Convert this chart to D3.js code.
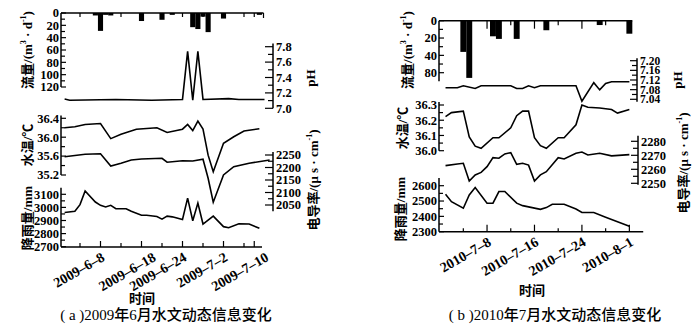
<!DOCTYPE html>
<html>
<head>
<meta charset="utf-8">
<script src="https://cdn.jsdelivr.net/npm/d3@7"></script>
<style>
  body { margin: 0; background: #fff; }
  svg { display: block; }
</style>
</head>
<body>
<svg id="chart" width="700" height="328"></svg>
<script>
// ---------- Panel (a): June 2009 ----------
const aFlowDates = ["2009-06-07","2009-06-08","2009-06-09","2009-06-10","2009-06-16","2009-06-20","2009-06-22","2009-06-26","2009-06-27","2009-06-28","2009-06-29","2009-07-02","2009-07-09"];
const aFlowValues = [4, 29, 3, 4, 13, 11, 3, 23, 26, 6, 31, 9, 3];

const aPhDates = ["2009-06-01","2009-06-02","2009-06-11","2009-06-18","2009-06-24","2009-06-25","2009-06-26","2009-06-27","2009-06-28","2009-07-03","2009-07-05","2009-07-10"];
const aPhValues = [7.12, 7.105, 7.115, 7.105, 7.115, 7.74, 7.105, 7.74, 7.115, 7.125, 7.115, 7.115];

const aTempDates = ["2009-06-01","2009-06-03","2009-06-05","2009-06-08","2009-06-10","2009-06-12","2009-06-15","2009-06-19","2009-06-21","2009-06-24","2009-06-25","2009-06-26","2009-06-27","2009-06-28","2009-06-29","2009-06-30","2009-07-02","2009-07-04","2009-07-06","2009-07-09"];
const aTempValues = [36.20, 36.22, 36.27, 36.29, 35.97, 36.06, 36.17, 36.20, 36.10, 36.17, 36.27, 36.14, 36.34, 36.17, 35.62, 35.27, 35.87, 36.01, 36.13, 36.18];

const aCondDates = ["2009-06-01","2009-06-05","2009-06-08","2009-06-10","2009-06-12","2009-06-14","2009-06-16","2009-06-20","2009-06-21","2009-06-24","2009-06-26","2009-06-28","2009-06-29","2009-06-30","2009-07-02","2009-07-04","2009-07-07","2009-07-11"];
const aCondValues = [2243, 2253, 2255, 2206, 2217, 2230, 2234, 2237, 2221, 2227, 2226, 2233, 2157, 2061, 2170, 2203, 2217, 2230];

const aRainDates = ["2009-06-01","2009-06-03","2009-06-04","2009-06-05","2009-06-07","2009-06-08","2009-06-09","2009-06-10","2009-06-11","2009-06-13","2009-06-14","2009-06-16","2009-06-17","2009-06-19","2009-06-20","2009-06-21","2009-06-22","2009-06-24","2009-06-25","2009-06-26","2009-06-27","2009-06-28","2009-06-30","2009-07-02","2009-07-03","2009-07-05","2009-07-07","2009-07-09"];
const aRainValues = [2961, 2970, 3021, 3126, 3041, 3016, 3003, 3016, 2991, 2990, 2970, 2940, 2940, 2930, 2910, 2933, 2928, 2908, 3071, 2898, 3033, 2873, 2933, 2853, 2845, 2875, 2873, 2840];

const aFlowTicks = [0, 20, 40, 60, 80, 100, 120];
const aPhTicks = [7.0, 7.2, 7.4, 7.6, 7.8];
const aTempTicks = [35.2, 35.6, 36.0, 36.4];
const aCondTicks = [2050, 2100, 2150, 2200, 2250];
const aRainTicks = [2700, 2800, 2900, 3000, 3100];
const aTimeTicks = ["2009-06-04","2009-06-08","2009-06-12","2009-06-16","2009-06-20","2009-06-24","2009-06-28","2009-07-02","2009-07-06","2009-07-08"];
const aDateLabelDates = ["2009-06-08","2009-06-18","2009-06-24","2009-07-02","2009-07-10"];
const aDateLabels = ["2009–6–8","2009–6–18","2009–6–24","2009–7–2","2009–7–10"];

// ---------- Panel (b): July 2010 ----------
const bFlowDates = ["2010-07-04","2010-07-05","2010-07-09","2010-07-10","2010-07-13","2010-07-18","2010-07-27","2010-08-01"];
const bFlowValues = [36, 66, 18, 21, 21, 11, 5, 15];

const bPhDates = ["2010-07-01","2010-07-03","2010-07-04","2010-07-06","2010-07-07","2010-07-12","2010-07-13","2010-07-14","2010-07-15","2010-07-16","2010-07-17","2010-07-23","2010-07-24","2010-07-26","2010-07-27","2010-07-28","2010-07-29","2010-08-01"];
const bPhValues = [7.088, 7.088, 7.096, 7.085, 7.096, 7.096, 7.085, 7.085, 7.096, 7.088, 7.096, 7.096, 7.032, 7.109, 7.079, 7.106, 7.113, 7.113];

const bTempDates = ["2010-07-01","2010-07-02","2010-07-04","2010-07-05","2010-07-06","2010-07-07","2010-07-09","2010-07-10","2010-07-12","2010-07-13","2010-07-14","2010-07-15","2010-07-16","2010-07-17","2010-07-18","2010-07-20","2010-07-21","2010-07-23","2010-07-24","2010-07-25","2010-07-27","2010-07-29","2010-07-30","2010-08-01"];
const bTempValues = [36.224, 36.25, 36.26, 36.09, 36.03, 36.016, 36.085, 36.085, 36.15, 36.23, 36.26, 36.26, 36.085, 36.033, 36.016, 36.085, 36.085, 36.17, 36.30, 36.285, 36.28, 36.27, 36.247, 36.27];

const bCondDates = ["2010-07-01","2010-07-03","2010-07-04","2010-07-05","2010-07-06","2010-07-07","2010-07-08","2010-07-09","2010-07-10","2010-07-11","2010-07-12","2010-07-13","2010-07-14","2010-07-15","2010-07-16","2010-07-17","2010-07-18","2010-07-20","2010-07-21","2010-07-23","2010-07-24","2010-07-25","2010-07-27","2010-07-29","2010-08-01"];
const bCondValues = [2262.6, 2263.8, 2264.3, 2251.6, 2256, 2257.8, 2261.9, 2268.3, 2267.9, 2271, 2271.9, 2263.6, 2264.3, 2263, 2251.6, 2256, 2258.3, 2268.3, 2267.4, 2271.4, 2272.3, 2270.2, 2271.5, 2269.6, 2270.5];

const bRainDates = ["2010-07-01","2010-07-02","2010-07-04","2010-07-05","2010-07-06","2010-07-08","2010-07-09","2010-07-10","2010-07-11","2010-07-13","2010-07-14","2010-07-17","2010-07-18","2010-07-19","2010-07-21","2010-07-23","2010-07-24","2010-07-26","2010-07-28","2010-08-01"];
const bRainValues = [2544, 2496, 2453, 2540, 2588, 2486, 2486, 2562, 2562, 2486, 2470, 2446, 2457, 2479, 2479, 2448, 2425, 2425, 2395, 2335];

const bFlowTicks = [0, 20, 40, 60];
const bFlowTickLabels = ["0", "20", "40", "80"];
const bPhTicks = [7.04, 7.08, 7.12, 7.16, 7.20];
const bTempTicks = [36.0, 36.1, 36.2, 36.3];
const bCondTicks = [2250, 2260, 2270, 2280];
const bRainTicks = [2300, 2400, 2500, 2600];
const bTimeTicks = ["2010-07-04","2010-07-08","2010-07-12","2010-07-16","2010-07-20","2010-07-24","2010-07-28","2010-08-01"];
const bDateLabelDates = ["2010-07-08","2010-07-16","2010-07-24","2010-08-01"];
const bDateLabels = ["2010–7–8","2010–7–16","2010–7–24","2010–8–1"];

// ---------- drawing ----------
const parse = d3.timeParse("%Y-%m-%d");
const NUM_FONT = '"Liberation Serif","Times New Roman",serif';
const CJK_FONT = '"Liberation Serif","Noto Sans CJK SC",sans-serif';
const svg = d3.select("#chart");
const DAY = 864e5;

function zip(dates, values) {
  return dates.map((d, i) => ({ date: parse(d), value: values[i] }));
}

// midpoints between labelled ticks become the unlabelled minor ticks
function withMinor(ticks) {
  const out = [];
  ticks.forEach((t, i) => {
    out.push({ v: t, major: true, i });
    if (i < ticks.length - 1) out.push({ v: (t + ticks[i + 1]) / 2, major: false });
  });
  return out;
}

// vertical axis with inward-pointing ticks
function yAxis(scale, xPos, side, ticks, fmt, extent, majorLen, minorLen, opts = {}) {
  const items = withMinor(ticks);
  const dir = side === "left" ? 1 : -1;
  const g = svg.append("g").attr("transform", `translate(${xPos},0)`);
  g.append("line")
    .attr("y1", scale(extent[0])).attr("y2", scale(extent[1]))
    .attr("stroke", "#000").attr("stroke-width", 1.5);
  g.selectAll("line.tk").data(items).join("line").attr("class", "tk")
    .attr("x1", 0).attr("x2", d => dir * (d.major ? majorLen : minorLen))
    .attr("y1", d => scale(d.v)).attr("y2", d => scale(d.v))
    .attr("stroke", "#000").attr("stroke-width", 1.2);
  g.selectAll("text").data(items.filter(d => d.major)).join("text")
    .attr("x", side === "left" ? -2 : 3)
    .attr("y", d => scale(d.v))
    .attr("dy", "0.35em")
    .attr("text-anchor", side === "left" ? "end" : "start")
    .attr("font-family", NUM_FONT).attr("font-weight", "bold")
    .attr("font-size", opts.size || 12.5)
    .text(d => opts.labels ? opts.labels[d.i] : fmt(d.v));
}

function lineSeries(x, y, dates, values) {
  svg.append("path")
    .datum(zip(dates, values))
    .attr("fill", "none").attr("stroke", "#000").attr("stroke-width", 1.6)
    .attr("stroke-linejoin", "miter")
    .attr("d", d3.line().x(d => x(d.date)).y(d => y(d.value)));
}

function flowBars(x, y, dates, values) {
  svg.append("g").selectAll("rect").data(zip(dates, values)).join("rect")
    .attr("x", d => x(new Date(+d.date - DAY / 2)))
    .attr("width", d => x(new Date(+d.date + DAY / 2)) - x(new Date(+d.date - DAY / 2)))
    .attr("y", y(0))
    .attr("height", d => y(d.value) - y(0))
    .attr("fill", "#000");
}

// horizontal time axis (ticks only; labels added separately)
function timeAxis(x, yPos, tickDates, up, longLen, shortLen, x0, x1) {
  const g = svg.append("g");
  g.append("line").attr("x1", x0).attr("x2", x1).attr("y1", yPos).attr("y2", yPos)
    .attr("stroke", "#000").attr("stroke-width", 1.5);
  g.selectAll("line.tk").data(tickDates).join("line").attr("class", "tk")
    .attr("x1", d => x(parse(d))).attr("x2", d => x(parse(d)))
    .attr("y1", yPos)
    .attr("y2", (d, i) => yPos + (up ? -1 : 1) * (i % 2 === 1 ? longLen : shortLen))
    .attr("stroke", "#000").attr("stroke-width", 1.2);
}

function dateLabels(x, yPos, dates, labels) {
  svg.append("g").selectAll("text").data(dates).join("text")
    .attr("transform", d => `translate(${x(parse(d)) + 5},${yPos + 13}) rotate(-30)`)
    .attr("text-anchor", "end")
    .attr("font-family", NUM_FONT).attr("font-weight", "bold").attr("font-size", 14)
    .text((d, i) => labels[i]);
}

// rotated axis title made of plain runs and raised runs
function vTitle(xPos, yPos, parts) {
  const t = svg.append("text")
    .attr("transform", `translate(${xPos},${yPos}) rotate(-90)`)
    .attr("text-anchor", "middle").attr("dominant-baseline", "central")
    .attr("font-family", CJK_FONT).attr("font-weight", "bold").attr("font-size", 13);
  let raised = false;
  parts.forEach(p => {
    const s = t.append("tspan").text(p.t);
    if (p.sup && !raised) { s.attr("dy", -4).attr("font-size", 8); raised = true; }
    else if (p.sup) { s.attr("font-size", 8); }
    else if (raised) { s.attr("dy", 4); raised = false; }
  });
}

function plainText(xPos, yPos, txt, size, weight) {
  svg.append("text").attr("x", xPos).attr("y", yPos)
    .attr("text-anchor", "middle")
    .attr("font-family", CJK_FONT).attr("font-weight", weight).attr("font-size", size)
    .text(txt);
}

// ----- panel (a) scales -----
const xA = d3.scaleTime().domain([parse("2009-05-31"), parse("2009-07-10")]).range([59.5, 264.5]);
const yFlowA = d3.scaleLinear().domain([0, 120]).range([13, 87]);
const yPhA = d3.scaleLinear().domain([7.0, 7.8]).range([108.3, 46.7]);
const yTempA = d3.scaleLinear().domain([35.2, 36.4]).range([175, 118.3]);
const yCondA = d3.scaleLinear().domain([2050, 2250]).range([205, 155]);
const yRainA = d3.scaleLinear().domain([2700, 3100]).range([246.7, 194.3]);
const aEnd = xA(parse("2009-07-10")) - 1;

flowBars(xA, yFlowA, aFlowDates, aFlowValues);
timeAxis(xA, yFlowA(0), aTimeTicks, false, 4, 4, 61, aEnd);
svg.append("line").attr("x1", aEnd).attr("x2", aEnd)
  .attr("y1", yFlowA(0)).attr("y2", yFlowA(0) + 5).attr("stroke", "#000").attr("stroke-width", 1.2);
yAxis(yFlowA, 61, "left", aFlowTicks, d3.format("d"), [0, 120], 5, 4);
lineSeries(xA, yPhA, aPhDates, aPhValues);
yAxis(yPhA, 273, "right", aPhTicks, d3.format(".1f"), [7.0, 7.84], 8, 5);
lineSeries(xA, yTempA, aTempDates, aTempValues);
yAxis(yTempA, 61, "left", aTempTicks, d3.format(".1f"), [35.2, 36.46], 5, 4);
lineSeries(xA, yCondA, aCondDates, aCondValues);
yAxis(yCondA, 273, "right", aCondTicks, d3.format("d"), [2025, 2262], 8, 5);
lineSeries(xA, yRainA, aRainDates, aRainValues);
yAxis(yRainA, 61, "left", aRainTicks, d3.format("d"), [2700, 3150], 5, 4);
timeAxis(xA, 247, aTimeTicks, true, 6, 4, 61, 262);
dateLabels(xA, 247, aDateLabelDates, aDateLabels);

vTitle(27, 50, [{t: "流量/(m"}, {t: "3", sup: true}, {t: " · d"}, {t: "-1", sup: true}, {t: ")"}]);
vTitle(27, 145, [{t: "水温/℃"}]);
vTitle(27, 218, [{t: "降雨量/mm"}]);
vTitle(310, 78, [{t: "pH"}]);
vTitle(313, 180, [{t: "电导率/(μ s · cm"}, {t: "-1", sup: true}, {t: ")"}]);
plainText(142, 303, "时间", 13, "bold");
plainText(166, 320, "( a )2009年6月水文动态信息变化", 15, 500);

// ----- panel (b) scales -----
const xB = d3.scaleTime().domain([parse("2010-06-30"), parse("2010-08-03")]).range([439.6, 439.6 + 34 * 5.93]);
const yFlowB = d3.scaleLinear().domain([0, 60]).range([20.7, 72.7]);
const yPhB = d3.scaleLinear().domain([7.04, 7.20]).range([99.3, 60.7]);
const yTempB = d3.scaleLinear().domain([36.0, 36.3]).range([150.7, 105]);
const yCondB = d3.scaleLinear().domain([2250, 2280]).range([183.3, 141.3]);
const yRainB = d3.scaleLinear().domain([2300, 2600]).range([231.7, 185.7]);

flowBars(xB, yFlowB, bFlowDates, bFlowValues);
const bTopEnd = xB(new Date(+parse("2010-08-01") + DAY / 2));
timeAxis(xB, yFlowB(0), bTimeTicks, false, 8, 4.5, 439, bTopEnd);
yAxis(yFlowB, 439, "left", bFlowTicks, d3.format("d"), [0, 70], 5, 4, { labels: bFlowTickLabels });
lineSeries(xB, yPhB, bPhDates, bPhValues);
yAxis(yPhB, 637, "right", bPhTicks, d3.format(".2f"), [7.03, 7.21], 7, 5, { size: 11.5 });
lineSeries(xB, yTempB, bTempDates, bTempValues);
yAxis(yTempB, 439, "left", bTempTicks, d3.format(".1f"), [36.0, 36.32], 5, 4);
lineSeries(xB, yCondB, bCondDates, bCondValues);
yAxis(yCondB, 638, "right", bCondTicks, d3.format("d"), [2249, 2284], 7, 5);
lineSeries(xB, yRainB, bRainDates, bRainValues);
yAxis(yRainB, 439, "left", bRainTicks, d3.format("d"), [2300, 2650], 5, 4);
timeAxis(xB, 231.7, bTimeTicks, true, 7, 3.5, 439, xB.range()[1] + 2);
dateLabels(xB, 231.7, bDateLabelDates, bDateLabels);

vTitle(407, 50, [{t: "流量/(m"}, {t: "3", sup: true}, {t: " · d"}, {t: "-1", sup: true}, {t: ")"}]);
vTitle(402, 128, [{t: "水温/℃"}]);
vTitle(400, 209, [{t: "降雨量/mm"}]);
vTitle(677, 80, [{t: "pH"}]);
vTitle(683, 163, [{t: "电导率/(μ s · cm"}, {t: "-1", sup: true}, {t: ")"}]);
plainText(532, 295, "时间", 13, "bold");
plainText(555, 320, "( b )2010年7月水文动态信息变化", 15, 500);
</script>
</body>
</html>
